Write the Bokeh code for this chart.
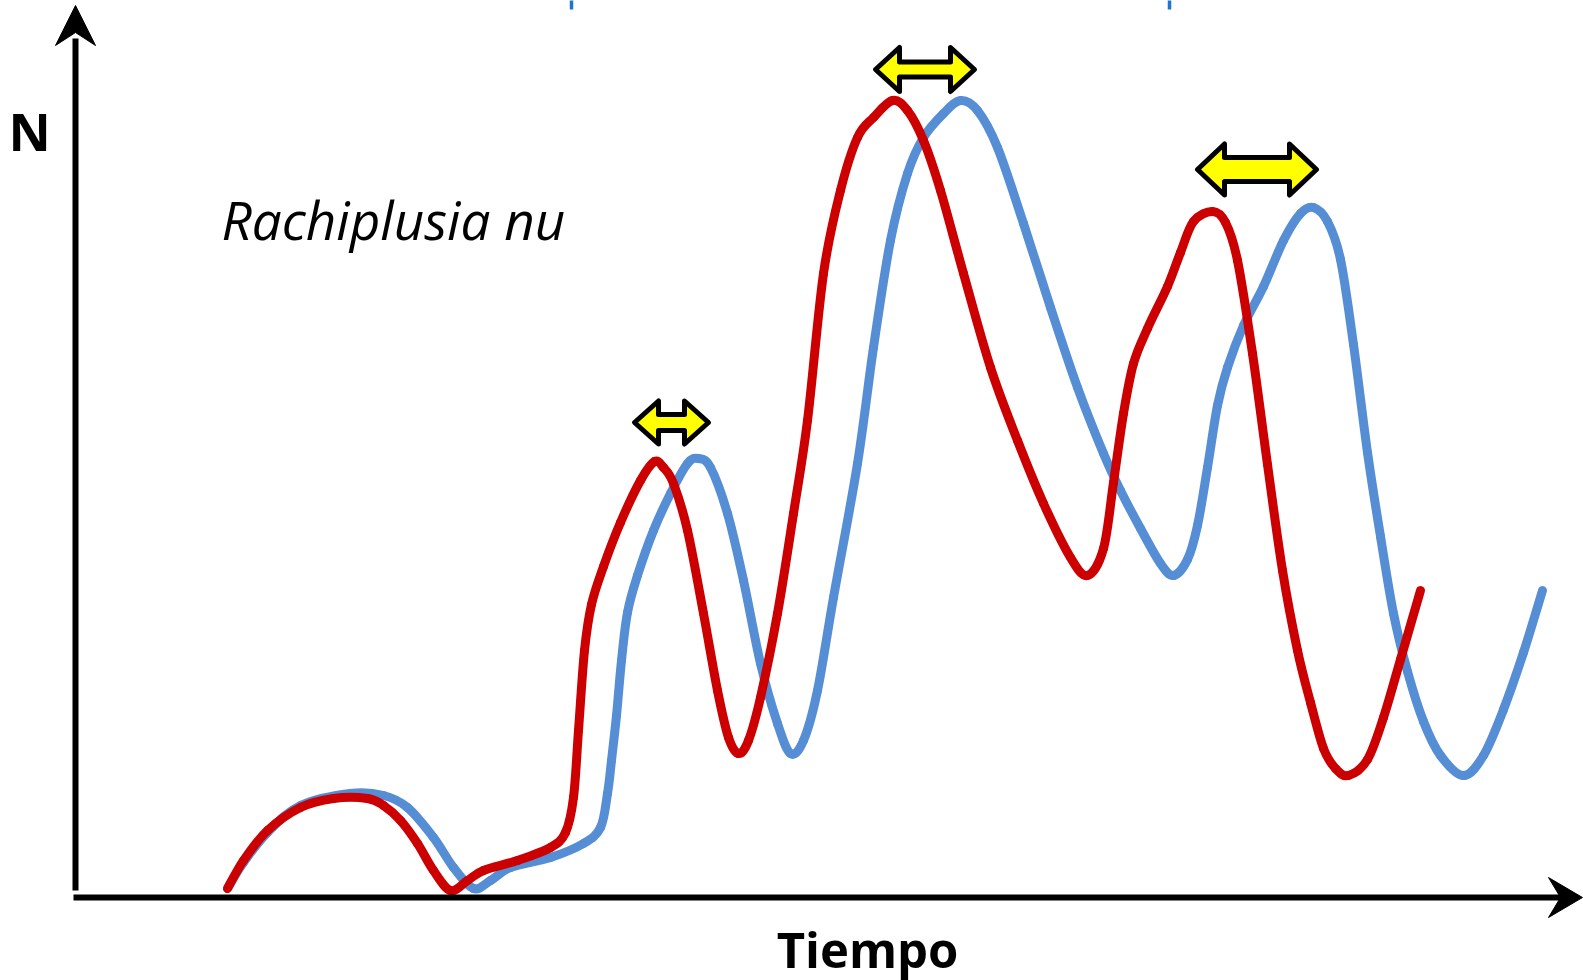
import numpy as np
from bokeh.plotting import figure
from bokeh.models import Range1d, ColumnDataSource
from bokeh.core.properties import value
from bokeh.embed import file_html
from bokeh.resources import INLINE

# ---- data (time units, N units) ----
red_t = [152, 168, 192, 225, 258, 292, 308, 325, 342, 358, 375, 392, 408, 442, 475, 490, 498, 503,
         509, 516, 528, 545, 565, 579, 588, 598, 612, 628, 642, 653, 663, 673, 685, 702, 718, 732,
         748, 765, 782, 798, 817, 832, 848, 865, 888, 915, 942, 968, 995, 1012, 1028, 1038, 1048,
         1058, 1072, 1092, 1105, 1118, 1137, 1150, 1162, 1177, 1192, 1207, 1222, 1235, 1248, 1260,
         1273, 1292, 1308, 1325, 1345]
red_n = [8, 36, 66, 89, 98, 98, 91, 76, 53, 26, 6, 16, 26, 36, 49, 64, 99, 166,
         246, 292, 330, 374, 416, 435, 429, 413, 366, 283, 206, 159, 143, 156, 199, 283, 383, 476,
         623, 706, 759, 779, 796, 786, 756, 706, 623, 529, 456, 393, 339, 321, 348, 414, 483,
         533, 568, 610, 644, 675, 685, 674, 636, 543, 432, 326, 246, 194, 148, 128,
         121, 137, 179, 237, 306]

blue_t = [152, 168, 192, 225, 275, 308, 332, 358, 378, 398, 415, 435, 475, 508, 525, 532, 536, 541,
          546, 552, 562, 578, 595, 612, 623, 635, 652, 668, 685, 702, 715, 728, 742, 758, 782, 798,
          815, 832, 848, 868, 885, 902, 922, 948, 975, 1002, 1028, 1045, 1065, 1085, 1098, 1112,
          1122, 1132, 1142, 1152, 1168, 1188, 1208, 1225, 1238, 1252, 1265, 1278, 1292, 1305, 1318,
          1332, 1348, 1365, 1388, 1408, 1428, 1448, 1467]
blue_n = [8, 34, 64, 91, 103, 101, 89, 59, 29, 8, 16, 29, 39, 53, 69, 103, 136, 181,
          236, 284, 321, 366, 403, 433, 438, 429, 383, 316, 233, 173, 143, 156, 206, 299, 433, 549,
          656, 723, 759, 783, 796, 786, 749, 673, 589, 509, 443, 406, 368, 333, 321, 337,
          371, 429, 491, 529, 571, 610, 656, 683, 689, 675, 637, 552, 444, 360, 283,
          225, 175, 141, 121, 141, 187, 244, 306]

# lag arrows (annotations): left tip, right tip, centre, half head height, half shaft height, head length
arrow_left = [559, 800, 1122]
arrow_right = [633, 899, 1241]
arrow_mid = [474, 827, 727]
arrow_head_half = [21.5, 22, 25.5]
arrow_shaft_half = [8, 7.5, 12]
arrow_head_len = [24, 24, 27]

RED = "#CC0000"
BLUE = "#558ED5"

p = figure(width=1583, height=980, output_backend="svg", toolbar_location=None,
           x_range=Range1d(-75, 1508), y_range=Range1d(-84, 896),
           min_border=0, outline_line_color=None)
p.axis.visible = False
p.grid.visible = False
p.background_fill_color = "white"
p.border_fill_color = "white"


def smooth_segments(t, n):
    t = np.asarray(t, float)
    n = np.asarray(n, float)
    P = np.column_stack([t, n])
    Pm = np.vstack([P[0], P, P[-1]])
    x0, y0, x1, y1, cx0, cy0, cx1, cy1 = [], [], [], [], [], [], [], []
    for i in range(1, len(Pm) - 2):
        a, b, c, d = Pm[i - 1], Pm[i], Pm[i + 1], Pm[i + 2]
        c0 = b + (c - a) / 6.0
        c1 = c - (d - b) / 6.0
        x0.append(b[0]); y0.append(b[1]); x1.append(c[0]); y1.append(c[1])
        cx0.append(c0[0]); cy0.append(c0[1]); cx1.append(c1[0]); cy1.append(c1[1])
    return ColumnDataSource(dict(x0=x0, y0=y0, x1=x1, y1=y1, cx0=cx0, cy0=cy0, cx1=cx1, cy1=cy1))


for tt, nn, col in [(blue_t, blue_n, BLUE), (red_t, red_n, RED)]:
    src = smooth_segments(tt, nn)
    p.bezier(x0="x0", y0="y0", x1="x1", y1="y1", cx0="cx0", cy0="cy0", cx1="cx1", cy1="cy1",
             source=src, line_color=col, line_width=9, line_cap="round")

# axes with arrowheads
p.segment(x0=[0], y0=[6], x1=[0], y1=[858], line_color="black", line_width=6)
p.segment(x0=[-2], y0=[-1], x1=[1486], y1=[-1], line_color="black", line_width=6)
p.patch(x=[0, -20, 0, 20], y=[891, 851, 864, 851], fill_color="black", line_color="black", line_width=1)
p.patch(x=[1507, 1473, 1485, 1473], y=[-1, 19, -1, -21], fill_color="black", line_color="black", line_width=1)

# cut-off blue marks at the very top edge
p.segment(x0=[496, 1094], y0=[887, 887], x1=[496, 1094], y1=[897, 897], line_color="#1F74D0", line_width=3.5)

# double arrows
xs, ys = [], []
for xl, xr, yc, hh, hs, hl in zip(arrow_left, arrow_right, arrow_mid, arrow_head_half,
                                  arrow_shaft_half, arrow_head_len):
    xs.append([xl, xl + hl, xl + hl, xr - hl, xr - hl, xr, xr - hl, xr - hl, xl + hl, xl + hl])
    ys.append([yc, yc + hh, yc + hs, yc + hs, yc + hh, yc, yc - hh, yc - hs, yc - hs, yc - hh])
p.patches(xs=xs, ys=ys, fill_color="#FFFF00", line_color="black", line_width=5, line_join="round")

# texts
p.text(x=[-67], y=[766], text=["N"], text_font=value("Open Sans"), text_font_style="bold",
       text_font_size="52px", text_color="black", text_baseline="alphabetic", text_align="left")
p.text(x=[792], y=[-52], text=["Tiempo"], text_font=value("Open Sans"), text_font_style="bold",
       text_font_size="49px", text_color="black", text_baseline="alphabetic", text_align="center")
p.text(x=[146], y=[677], text=["Rachiplusia nu"], text_font=value("Open Sans"), text_font_style="italic",
       text_font_size="53px", text_color="black", text_baseline="alphabetic", text_align="left")

open("out.html", "w").write(file_html(p, INLINE))
